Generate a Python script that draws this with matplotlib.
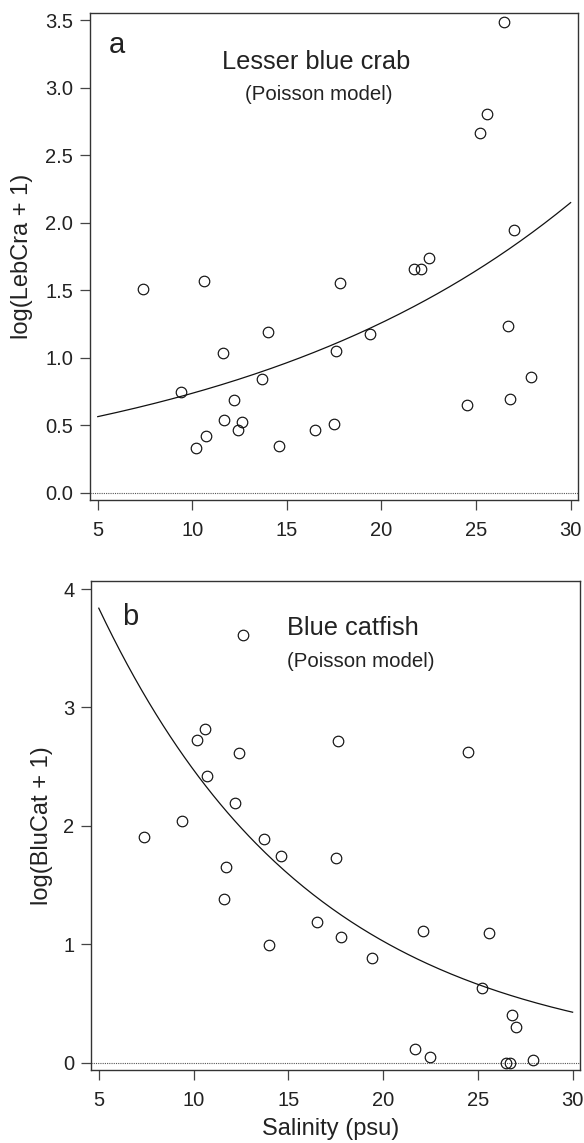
import numpy as np
import matplotlib
matplotlib.use("Agg")
import matplotlib.pyplot as plt

plt.rcParams["font.family"] = ["Liberation Sans", "DejaVu Sans"]

# Station salinity (psu), shared by both species
salinity = [7.4, 9.4, 10.2, 10.6, 10.7, 11.6, 11.7, 12.2, 12.4, 12.6,
            13.7, 14.0, 14.6, 16.5, 17.5, 17.6, 17.8, 19.4, 21.7, 22.1,
            22.5, 24.5, 25.2, 25.6, 26.5, 26.7, 26.8, 27.0, 27.9]

# log(count + 1) per station
lebcra = [1.51, 0.75, 0.335, 1.57, 0.42, 1.036, 0.543, 0.69, 0.466, 0.528,
          0.84, 1.19, 0.35, 0.469, 0.513, 1.053, 1.555, 1.177, 1.66, 1.656,
          1.74, 0.651, 2.667, 2.805, 3.484, 1.236, 0.694, 1.947, 0.861]

blucat = [1.909, 2.041, 2.723, 2.816, 2.424, 1.38, 1.65, 2.191, 2.613, 3.612,
          1.887, 0.991, 1.748, 1.186, 1.73, 2.717, 1.064, 0.887, 0.116, 1.115,
          0.048, 2.622, 0.631, 1.098, 0.0, 0.0, 0.405, 0.299, 0.02]

# Poisson model fits: exp(intercept + slope * salinity)
lebcra_fit = (-0.838, 0.05344)
blucat_fit = (1.7847, -0.08793)
fit_range = (5.0, 30.0)

xticks = [5, 10, 15, 20, 25, 30]
lebcra_yticks = [0.0, 0.5, 1.0, 1.5, 2.0, 2.5, 3.0, 3.5]
blucat_yticks = [0, 1, 2, 3, 4]

W, H = 584, 1143
fig = plt.figure(figsize=(W / 100, H / 100), dpi=100)

def px_axes(l, t, r, b):
    return fig.add_axes([l / W, 1 - b / H, (r - l) / W, (b - t) / H])

ax1 = px_axes(90, 13, 578, 500)
ax2 = px_axes(91, 581, 580, 1070)

ink = "#222222"

def style(ax, yticks, yfmt):
    ax.set_xlim(4.59, 30.39)
    ax.set_xticks(xticks)
    ax.set_yticks(yticks)
    ax.set_yticklabels([yfmt.format(v) for v in yticks])
    for s in ax.spines.values():
        s.set_linewidth(1.0)
        s.set_color("#333333")
    ax.tick_params(direction="out", length=7, width=0.9, color="#444444",
                   labelsize=14.5, labelcolor=ink)
    ax.tick_params(axis="x", pad=8)
    ax.tick_params(axis="y", pad=5)
    ax.axhline(0, color="#555555", lw=0.8, ls=(0, (1, 1)), zorder=1)

def panel(ax, y, fit):
    xs = np.linspace(fit_range[0], fit_range[1], 200)
    ax.plot(xs, np.exp(fit[0] + fit[1] * xs), color="#111111", lw=0.9, zorder=2)
    ax.plot(salinity, y, ls="none", marker="o", ms=7.6, mfc="none",
            mec="#111111", mew=0.85, zorder=3)

# Panel a: lesser blue crab
panel(ax1, lebcra, lebcra_fit)
style(ax1, lebcra_yticks, "{:.1f}")
ax1.set_ylim(-0.052, 3.553)
ax1.set_ylabel("log(LebCra + 1)", fontsize=17, color=ink)
ax1.yaxis.set_label_coords(-0.117, 0.5)
ax1.text(0.0547, 0.918, "a", transform=ax1.transAxes, fontsize=21,
         ha="center", va="baseline", color=ink)
ax1.text(0.463, 0.885, "Lesser blue crab", transform=ax1.transAxes,
         fontsize=18.3, ha="center", va="baseline", color=ink)
ax1.text(0.468, 0.821, "(Poisson model)", transform=ax1.transAxes,
         fontsize=14.7, ha="center", va="baseline", color=ink)

# Panel b: blue catfish
panel(ax2, blucat, blucat_fit)
style(ax2, blucat_yticks, "{:d}")
ax2.set_ylim(-0.062, 4.068)
ax2.set_ylabel("log(BluCat + 1)", fontsize=17, color=ink)
ax2.yaxis.set_label_coords(-0.078, 0.5)
ax2.set_xlabel("Salinity (psu)", fontsize=17, color=ink)
ax2.xaxis.set_label_coords(0.49, -0.098)
ax2.text(0.0798, 0.910, "b", transform=ax2.transAxes, fontsize=21,
         ha="center", va="baseline", color=ink)
ax2.text(0.401, 0.8896, "Blue catfish", transform=ax2.transAxes,
         fontsize=18.3, ha="left", va="baseline", color=ink)
ax2.text(0.400, 0.8248, "(Poisson model)", transform=ax2.transAxes,
         fontsize=14.7, ha="left", va="baseline", color=ink)

fig.savefig("out.png", dpi=100)
